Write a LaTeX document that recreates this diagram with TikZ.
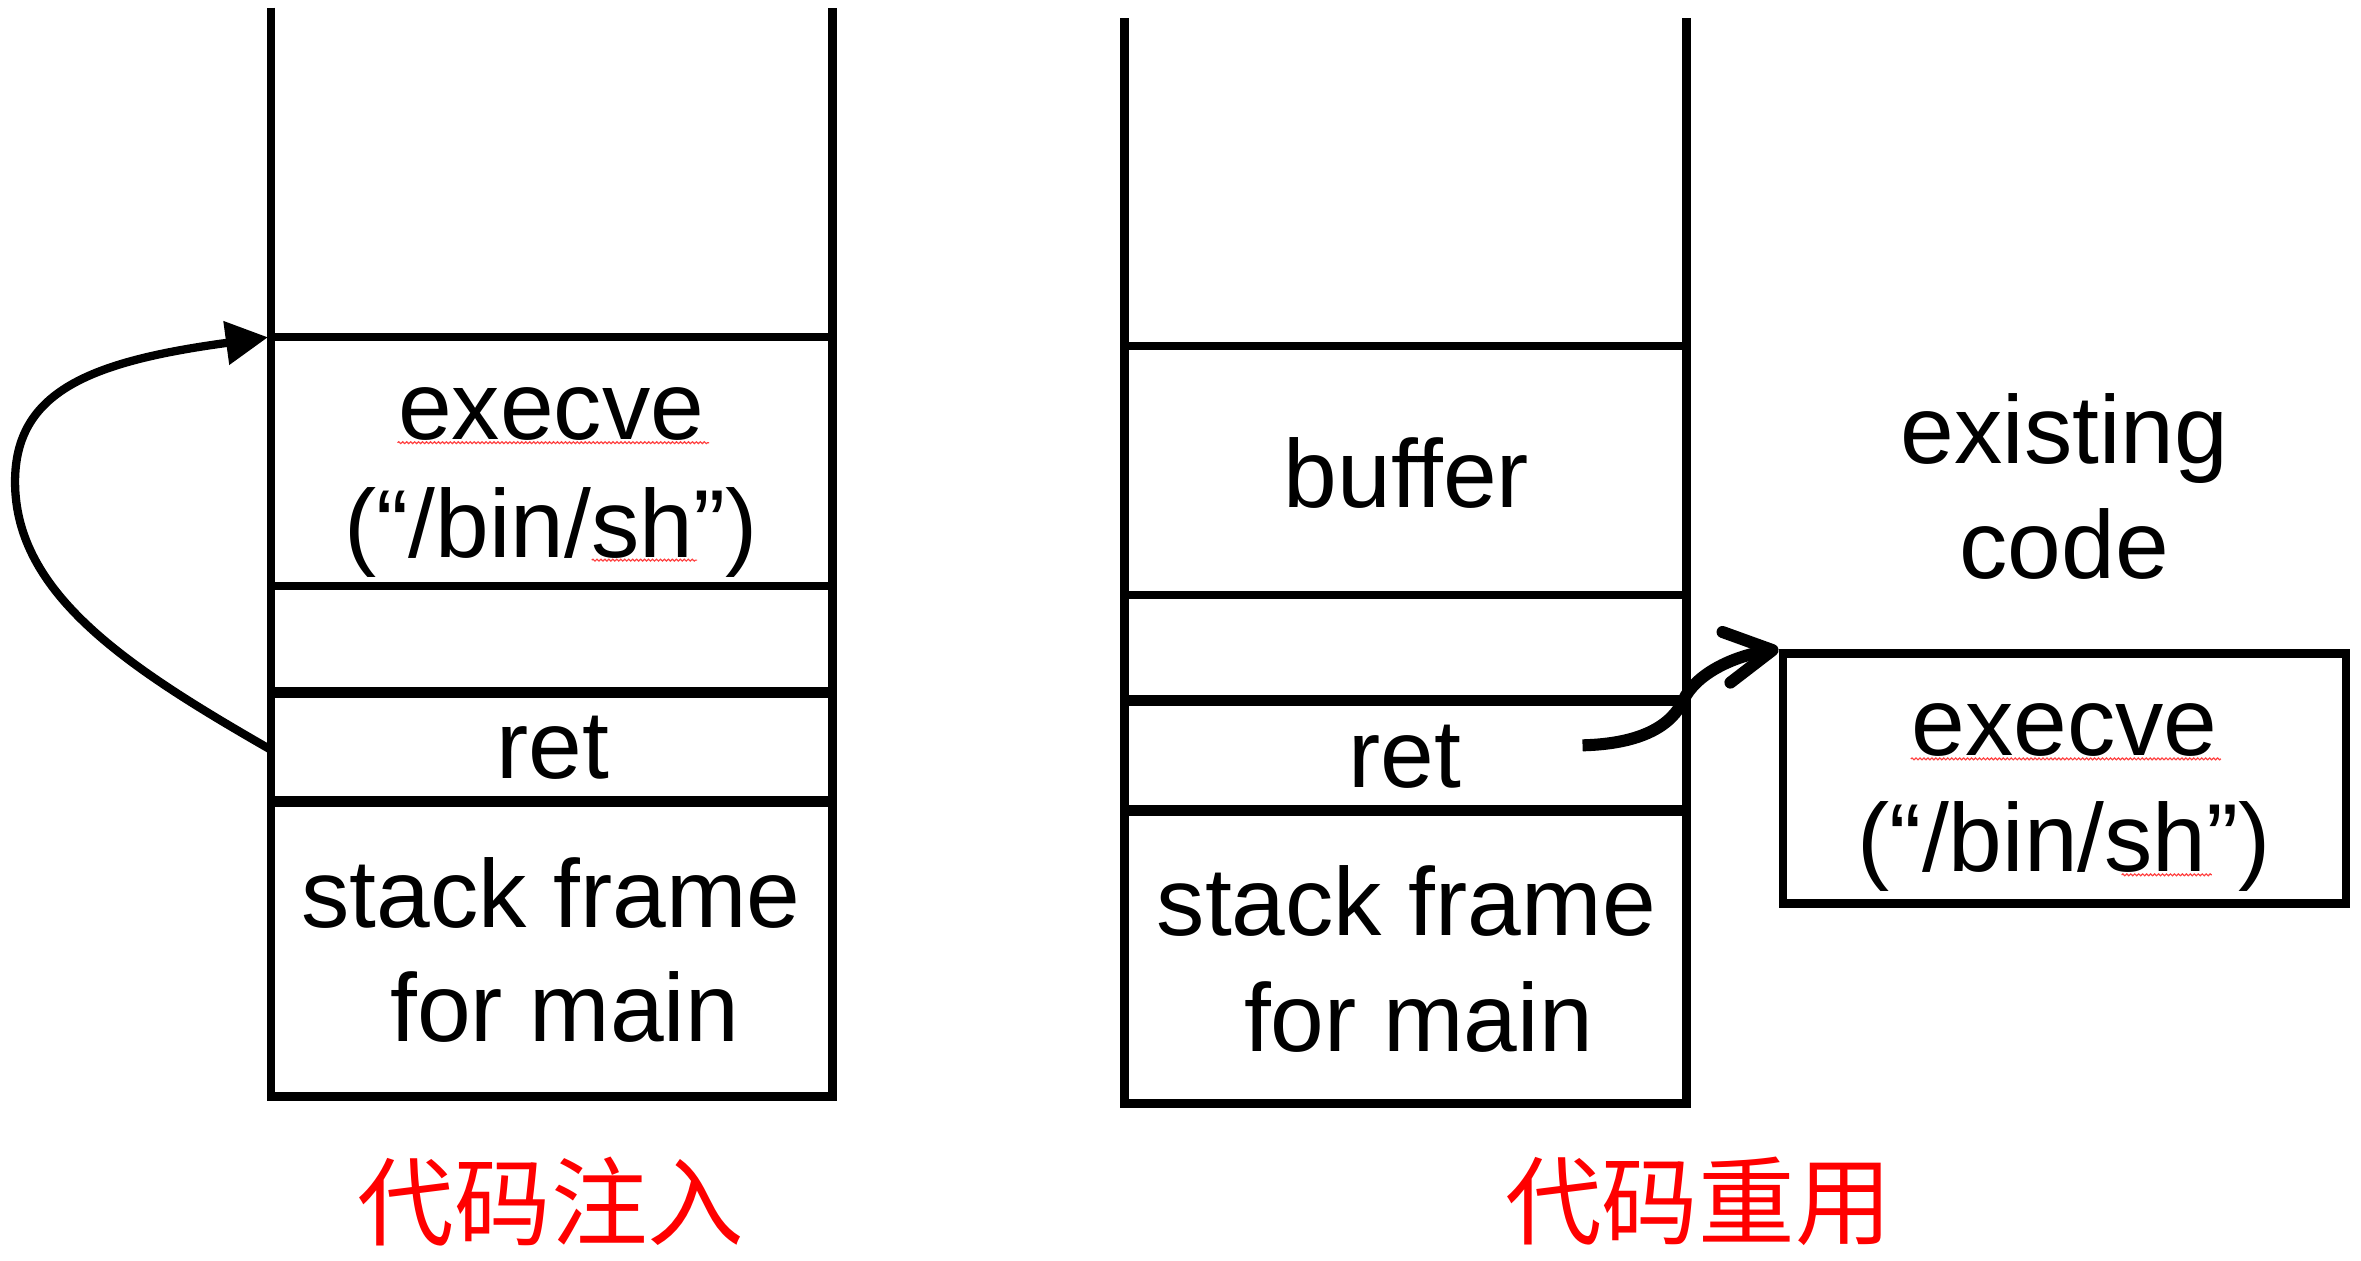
\documentclass[tikz,border=0pt]{standalone}
\usepackage{fontspec}
\setmainfont{Liberation Sans}
\newfontfamily\cjk{Noto Sans CJK SC}
\usetikzlibrary{arrows.meta,decorations.pathmorphing}
\begin{document}
\begin{tikzpicture}[x=0.02cm,y=-0.02cm,
  wall/.style={line width=0.115cm, line join=miter},
  sep/.style={line width=0.105cm},
  thicksep/.style={line width=0.145cm},
  lbl/.style={anchor=base, inner sep=0pt, font=\fontsize{36.5}{43}\selectfont},
  cn/.style={anchor=center, inner sep=0pt, text=red, font=\cjk\fontsize{36.5}{43}\selectfont},
  squig/.style={red!75, line width=0.45pt, decorate, decoration={snake, amplitude=0.35pt, segment length=1.5pt}},
]
\useasboundingbox (0,0) rectangle (1568,837);

% ---------- left stack ----------
\draw[wall] (180,5) -- (180,728) -- (553,728) -- (553,5);
\draw[sep] (180,224) -- (553,224);
\draw[sep] (180,389) -- (553,389);
\draw[thicksep] (180,460) -- (553,460);
\draw[thicksep] (180,532) -- (553,532);

\node[lbl] (lexec) at (366,292) {execve};
\node[lbl] (lbin) at (366,370) {(“/bin/sh”)};
\node[lbl] (lret) at (367,517) {ret};
\node[lbl] (lsf) at (366,616) {stack frame};
\node[lbl] (lfm) at (375,692) {for main};
\draw[squig] (264,294) -- (471,294);
\draw[squig] (393,372) -- (463,372);
\node[cn] (linj) at (366,798) {代码注入};

% ---------- right stack ----------
\draw[wall] (747,12) -- (747,733) -- (1120,733) -- (1120,12);
\draw[sep] (747,230) -- (1120,230);
\draw[sep] (747,395) -- (1120,395);
\draw[thicksep] (747,465) -- (1120,465);
\draw[thicksep] (747,538) -- (1120,538);

\node[lbl] (rbuf) at (934,337) {buffer};
\node[lbl] (rret) at (933,523) {ret};
\node[lbl] (rsf) at (934,621) {stack frame};
\node[lbl] (rfm) at (942,698) {for main};
\node[cn] (rreuse) at (1128,798) {代码重用};

% ---------- existing code ----------
\node[lbl] (exist) at (1371,308) {existing};
\node[lbl] (codew) at (1371,384) {code};
\node[draw, line width=0.115cm, minimum width=7.48cm, minimum height=3.32cm, inner sep=0pt] (codebox) at (1371,517) {};
\node[lbl] (bexec) at (1371,502) {execve};
\node[lbl] (bbin) at (1371,579) {(“/bin/sh”)};
\draw[squig] (1269,504) -- (1475,504);
\draw[squig] (1409,581) -- (1469,581);

% ---------- connectors ----------
\coordinate (lstart) at (180,498);
\coordinate (ltarget) at (178,224);
\draw[line width=0.11cm, -{Triangle[length=0.56cm,width=0.56cm]}]
  (lstart) .. controls (86,444) and (10,395) .. (10,320)
           .. controls (10,260) and (60,240) .. (ltarget);

\coordinate (rstart) at (1051,495);
\draw[line width=0.16cm, -{Straight Barb[length=0.62cm,width=0.68cm,round]}]
  (rstart) .. controls (1090,494) and (1110,482) .. (1118,465)
           .. controls (1126,448) and (1150,436) .. (codebox.north west);
\end{tikzpicture}
\end{document}
